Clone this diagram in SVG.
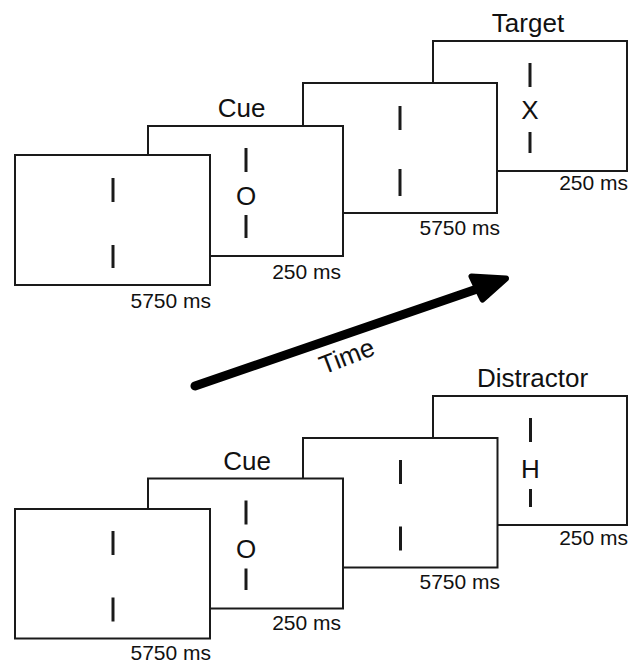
<svg xmlns="http://www.w3.org/2000/svg" width="640" height="663" viewBox="0 0 640 663">
<style>
.scr{fill:#fff;stroke:#1a1a1a;stroke-width:2}
.bar{stroke:#1a1a1a;stroke-width:3;stroke-linecap:butt}
.lbl{font-family:"Liberation Sans",Arial,sans-serif;font-size:26px;fill:#111;text-anchor:middle}
.sym{font-family:"Liberation Sans",Arial,sans-serif;font-size:26px;fill:#111;text-anchor:middle}
.dur{font-family:"Liberation Sans",Arial,sans-serif;font-size:21px;fill:#111;text-anchor:end}
</style>
<rect width="640" height="663" fill="#fff"/>

<!-- Top sequence (drawn back to front) -->
<g id="top-target">
  <rect class="scr" x="433" y="41" width="194" height="130"/>
  <text class="lbl" x="528" y="32">Target</text>
  <line class="bar" x1="530" y1="63" x2="530" y2="87"/>
  <text class="sym" x="530" y="118.5">X</text>
  <line class="bar" x1="530" y1="132" x2="530" y2="153"/>
  <text class="dur" x="628" y="190">250 ms</text>
</g>
<g id="top-fixation2">
  <rect class="scr" x="303" y="83" width="194" height="130"/>
  <line class="bar" x1="400" y1="106" x2="400" y2="130"/>
  <line class="bar" x1="400" y1="169" x2="400" y2="196"/>
  <text class="dur" x="500" y="235">5750 ms</text>
</g>
<g id="top-cue">
  <rect class="scr" x="148" y="126" width="195" height="130"/>
  <text class="lbl" x="241.5" y="117">Cue</text>
  <line class="bar" x1="246" y1="148" x2="246" y2="172"/>
  <text class="sym" x="246" y="204.5">O</text>
  <line class="bar" x1="246" y1="215" x2="246" y2="238"/>
  <text class="dur" x="341" y="279">250 ms</text>
</g>
<g id="top-fixation1">
  <rect class="scr" x="15" y="155" width="195" height="130"/>
  <line class="bar" x1="113" y1="178" x2="113" y2="202"/>
  <line class="bar" x1="113" y1="245" x2="113" y2="268"/>
  <text class="dur" x="211" y="308">5750 ms</text>
</g>

<!-- Bottom sequence -->
<g id="bottom-distractor">
  <rect class="scr" x="433" y="396" width="194" height="129"/>
  <text class="lbl" x="532.5" y="386.5">Distractor</text>
  <line class="bar" x1="530.5" y1="418" x2="530.5" y2="442"/>
  <text class="sym" x="530.5" y="477.5">H</text>
  <line class="bar" x1="530.5" y1="489" x2="530.5" y2="507"/>
  <text class="dur" x="628" y="545">250 ms</text>
</g>
<g id="bottom-fixation2">
  <rect class="scr" x="303" y="438" width="194.5" height="129.5"/>
  <line class="bar" x1="400.5" y1="460" x2="400.5" y2="484"/>
  <line class="bar" x1="400.5" y1="526.5" x2="400.5" y2="550.5"/>
  <text class="dur" x="500" y="588.5">5750 ms</text>
</g>
<g id="bottom-cue">
  <rect class="scr" x="148" y="478.5" width="195" height="130"/>
  <text class="lbl" x="247" y="470">Cue</text>
  <line class="bar" x1="246" y1="500.5" x2="246" y2="524.5"/>
  <text class="sym" x="246" y="557.5">O</text>
  <line class="bar" x1="246" y1="568.5" x2="246" y2="590"/>
  <text class="dur" x="341" y="630">250 ms</text>
</g>
<g id="bottom-fixation1">
  <rect class="scr" x="15" y="509" width="195" height="129.5"/>
  <line class="bar" x1="113" y1="531" x2="113" y2="555"/>
  <line class="bar" x1="113" y1="597.5" x2="113" y2="621.5"/>
  <text class="dur" x="211" y="660">5750 ms</text>
</g>

<!-- Connectors: time arrow -->
<g id="connectors">
  <line x1="195" y1="386" x2="480" y2="288" stroke="#000" stroke-width="9" stroke-linecap="round"/>
  <polygon points="471.5,276.5 506,278.5 482.5,299.5" fill="#000" stroke="#000" stroke-width="6" stroke-linejoin="round"/>
  <text class="lbl" x="350" y="364.5" font-size="25" transform="rotate(-21 350 364.5)">Time</text>
</g>
</svg>
